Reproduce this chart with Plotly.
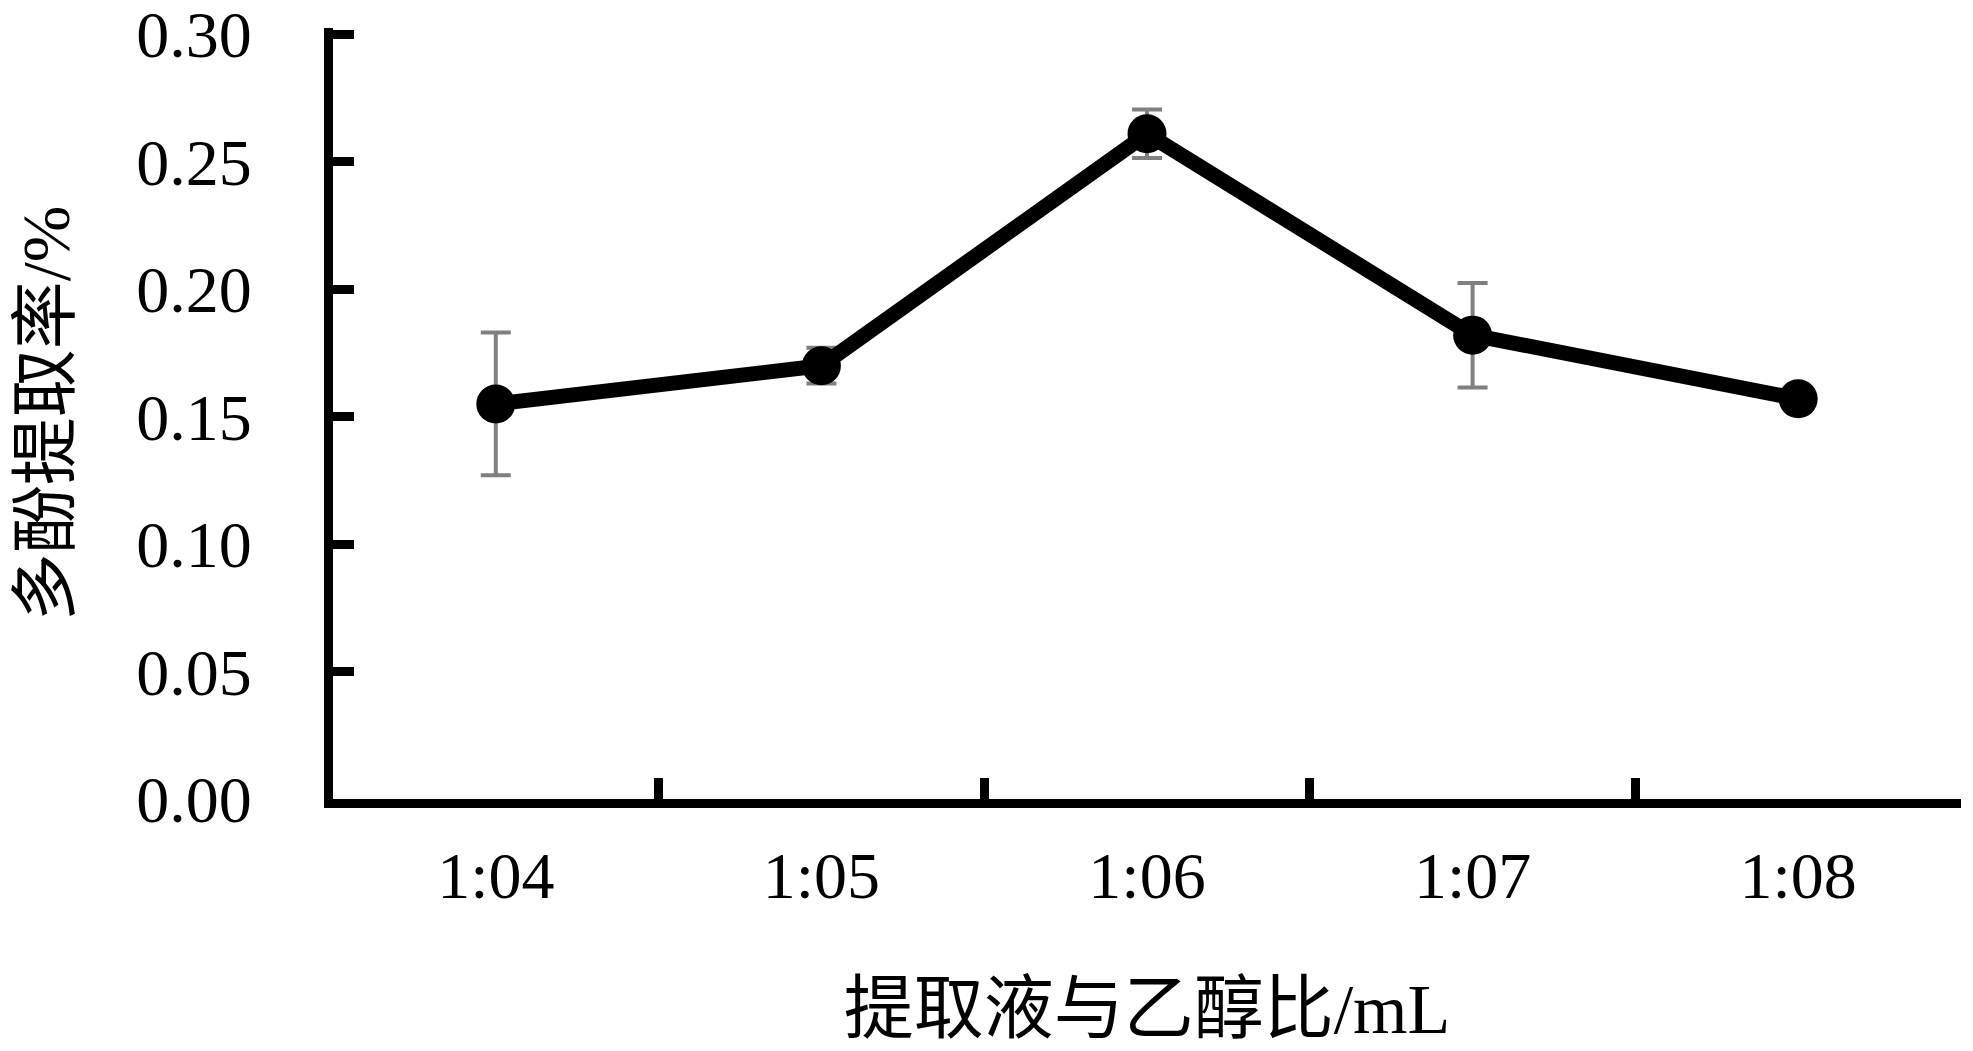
import plotly.graph_objects as go

categories = ["1:04", "1:05", "1:06", "1:07", "1:08"]
rates = [0.155, 0.170, 0.261, 0.182, 0.157]
errors = [0.028, 0.007, 0.0095, 0.0205, 0.003]
y_ticks = [0.00, 0.05, 0.10, 0.15, 0.20, 0.25, 0.30]
y_tick_text = ["0.00", "0.05", "0.10", "0.15", "0.20", "0.25", "0.30"]

font_family = "Liberation Serif, Times New Roman, Noto Sans CJK SC"

fig = go.Figure()
fig.add_trace(go.Scatter(
    x=categories,
    y=rates,
    mode="lines+markers",
    line=dict(color="black", width=15),
    marker=dict(color="black", size=39, line=dict(width=0)),
    error_y=dict(type="data", array=errors, visible=True,
                 color="#808080", thickness=4, width=15),
    showlegend=False,
))

fig.update_layout(
    width=1973, height=1051,
    margin=dict(l=325, r=20, t=20, b=260, autoexpand=False),
    paper_bgcolor="white", plot_bgcolor="white",
    font=dict(family=font_family, color="black", size=66),
    xaxis=dict(
        type="category",
        range=[-0.5, 4.5],
        tickson="boundaries",
        showline=True, linecolor="black", linewidth=9,
        ticks="inside", ticklen=21, tickwidth=9, tickcolor="black",
        showgrid=False, zeroline=False,
        tickfont=dict(family=font_family, size=66),
        ticklabelstandoff=11,
        title=dict(text="提取液与乙醇比/mL", font=dict(family=font_family, size=70), standoff=76),
    ),
    yaxis=dict(
        range=[0, 0.3025],
        tickvals=y_ticks, ticktext=y_tick_text,
        showline=True, linecolor="black", linewidth=9,
        ticks="inside", ticklen=21, tickwidth=9, tickcolor="black",
        showgrid=False, zeroline=False,
        tickfont=dict(family=font_family, size=66),
        ticklabelstandoff=59,
        ticklabeloverflow="allow",
        title=dict(text="多酚提取率/%", font=dict(family=font_family, size=68), standoff=67),
    ),
)

fig.write_html("out.html")
